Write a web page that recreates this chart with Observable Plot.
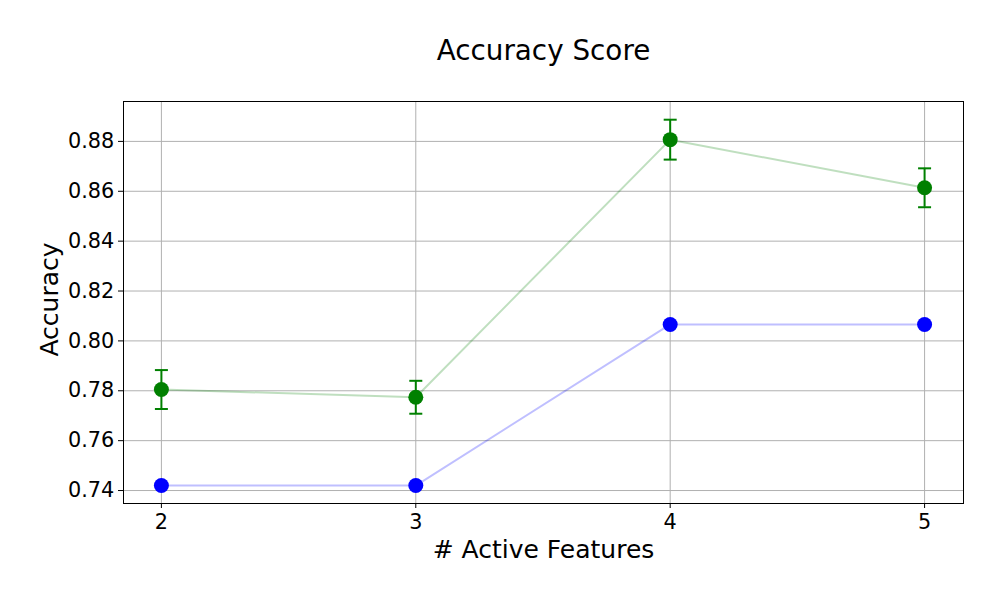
<!DOCTYPE html>
<html><head><meta charset="utf-8">
<script src="https://cdn.jsdelivr.net/npm/d3@7"></script>
<script src="https://cdn.jsdelivr.net/npm/@observablehq/plot@0.6"></script>
<style>
body{margin:0;background:#fff;font-family:"DejaVu Sans",sans-serif;}
</style>
</head><body><div id="chart"></div>
<script>
const features = [2, 3, 4, 5];
const greenScores = [0.7805, 0.7774, 0.8807, 0.8614];
const greenErrors = [0.0078, 0.0066, 0.0080, 0.0078];
const blueScores = [0.742, 0.742, 0.8066, 0.8066];
const yTicks = [0.74, 0.76, 0.78, 0.80, 0.82, 0.84, 0.86, 0.88];
const xTicks = [2, 3, 4, 5];

const green = features.map((x, i) => ({x, y: greenScores[i], e: greenErrors[i]}));
const blue = features.map((x, i) => ({x, y: blueScores[i]}));

const hline = {draw(ctx, size) { const r = 6.5; ctx.moveTo(-r, 0); ctx.lineTo(r, 0); }};

const chart = Plot.plot({
  width: 1000, height: 600,
  marginLeft: 123, marginRight: 37, marginTop: 101, marginBottom: 97,
  style: {fontFamily: "DejaVu Sans, sans-serif", color: "black", background: "white"},
  x: {domain: [1.851, 5.153], label: null},
  y: {domain: [0.7348, 0.896], label: null},
  marks: [
    Plot.gridX(xTicks, {stroke: "#b0b0b0", strokeOpacity: 1, strokeWidth: 1}),
    Plot.gridY(yTicks, {stroke: "#b0b0b0", strokeOpacity: 1, strokeWidth: 1}),
    Plot.axisX(xTicks, {tickFormat: () => "", tickSize: 5, stroke: "black", label: null}),
    Plot.axisY(yTicks, {tickFormat: () => "", tickSize: 5, stroke: "black", label: null}),
    Plot.text(xTicks, {x: d => d, frameAnchor: "bottom", lineAnchor: "middle", dy: 18.4, text: d => String(d), fontSize: 20.8, fill: "black"}),
    Plot.text(yTicks, {y: d => d, frameAnchor: "left", lineAnchor: "middle", textAnchor: "end", dx: -9.2, text: d => d.toFixed(2), fontSize: 20.8, fill: "black"}),
    Plot.line(blue, {x: "x", y: "y", stroke: "blue", strokeOpacity: 0.25, strokeWidth: 2}),
    Plot.line(green, {x: "x", y: "y", stroke: "green", strokeOpacity: 0.25, strokeWidth: 2}),
    Plot.ruleX(green, {x: "x", y1: d => d.y - d.e, y2: d => d.y + d.e, stroke: "green", strokeWidth: 2}),
    Plot.dot(green, {x: "x", y: d => d.y - d.e, symbol: hline, r: 6.5, stroke: "green", strokeWidth: 2}),
    Plot.dot(green, {x: "x", y: d => d.y + d.e, symbol: hline, r: 6.5, stroke: "green", strokeWidth: 2}),
    Plot.dot(blue, {x: "x", y: "y", r: 7.5, fill: "blue", stroke: "none"}),
    Plot.dot(green, {x: "x", y: "y", r: 7.5, fill: "green", stroke: "none"}),
    Plot.frame({stroke: "black", strokeWidth: 1}),
    Plot.text(["Accuracy Score"], {frameAnchor: "top", lineAnchor: "middle", dy: -50, fontSize: 27.8, fill: "black"}),
    Plot.text(["# Active Features"], {frameAnchor: "bottom", lineAnchor: "middle", dy: 46, fontSize: 25, fill: "black"}),
    Plot.text(["Accuracy"], {frameAnchor: "left", lineAnchor: "middle", textAnchor: "middle", dx: -74, dy: -3, rotate: -90, fontSize: 25, fill: "black"})
  ]
});
document.getElementById("chart").appendChild(chart);
</script></body></html>
